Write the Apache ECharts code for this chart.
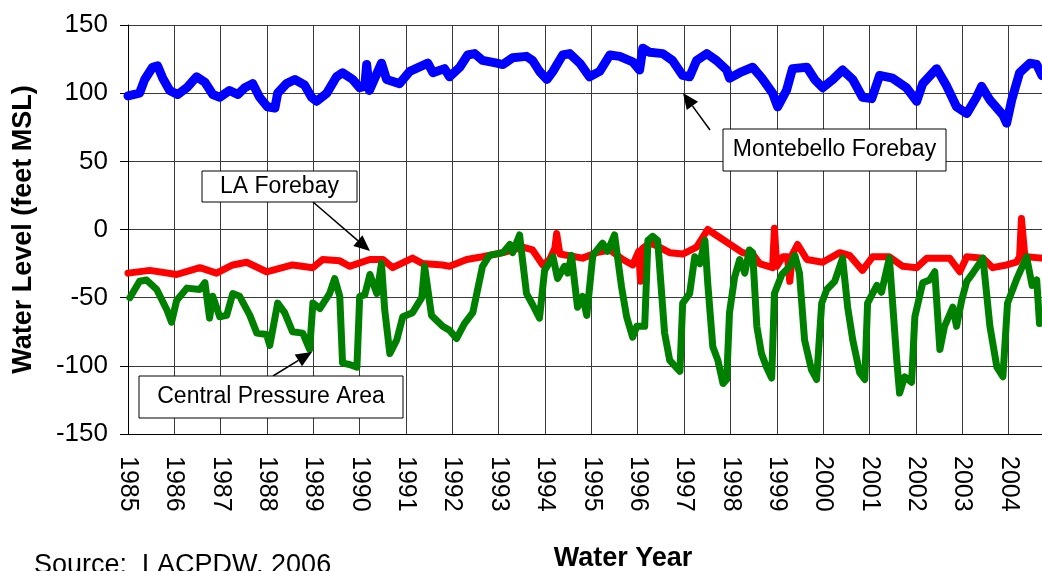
<!DOCTYPE html>
<html><head><meta charset="utf-8">
<script src="https://cdn.jsdelivr.net/npm/echarts@6/dist/echarts.min.js"></script>
<style>html,body{margin:0;padding:0;background:#fff}#c{width:1042px;height:571px}</style>
</head><body><div id="c"></div>
<script>
// ---- data (water year, water level in feet MSL) ----
const montebelloForebay = [[1985.00,98],[1985.25,100],[1985.36,110],[1985.53,119],[1985.64,120],[1985.75,111],[1985.90,102],[1986.07,99],[1986.27,104],[1986.48,112],[1986.66,108],[1986.83,99],[1986.98,97],[1987.19,102],[1987.37,99],[1987.52,104],[1987.69,107],[1987.84,97],[1988.01,90],[1988.17,89],[1988.23,100],[1988.42,107],[1988.60,110],[1988.81,106],[1988.96,97],[1989.07,94],[1989.29,100],[1989.50,112],[1989.63,115],[1989.85,110],[1990.00,104],[1990.11,105],[1990.15,121],[1990.21,102],[1990.47,122],[1990.58,110],[1990.86,107],[1991.08,116],[1991.47,122],[1991.58,115],[1991.83,118],[1991.94,112],[1992.16,119],[1992.33,128],[1992.48,129],[1992.65,124],[1992.96,122],[1993.09,121],[1993.30,126],[1993.60,127],[1993.73,124],[1993.88,116],[1994.04,110],[1994.17,116],[1994.38,128],[1994.53,129],[1994.75,122],[1994.96,112],[1995.18,116],[1995.40,128],[1995.61,127],[1995.89,123],[1996.04,117],[1996.11,133],[1996.26,130],[1996.54,129],[1996.75,124],[1996.97,113],[1997.12,112],[1997.27,124],[1997.49,129],[1997.70,124],[1997.92,117],[1997.98,111],[1998.20,115],[1998.48,119],[1998.68,111],[1998.91,100],[1999.02,90],[1999.21,102],[1999.34,118],[1999.65,119],[1999.82,110],[1999.99,104],[2000.21,110],[2000.42,117],[2000.64,110],[2000.85,97],[2001.05,96],[2001.22,113],[2001.50,111],[2001.80,104],[2002.02,94],[2002.15,107],[2002.45,118],[2002.67,105],[2002.88,90],[2003.10,85],[2003.31,97],[2003.42,105],[2003.60,95],[2003.88,84],[2003.96,78],[2004.07,95],[2004.24,115],[2004.46,122],[2004.61,121],[2004.72,113]];

const laForebay = [[1985.00,-32],[1985.47,-30],[1986.05,-33],[1986.55,-28],[1986.91,-32],[1987.26,-26],[1987.56,-24],[1987.99,-31],[1988.55,-26],[1988.99,-28],[1989.20,-22],[1989.57,-23],[1989.78,-27],[1990.22,-22],[1990.50,-22],[1990.71,-28],[1991.14,-21],[1991.36,-25],[1991.79,-26],[1991.94,-27],[1992.31,-22],[1992.65,-20],[1993.09,-17],[1993.52,-13],[1993.73,-15],[1993.95,-26],[1994.10,-22],[1994.21,-14],[1994.25,-3],[1994.32,-18],[1994.36,-19],[1994.81,-21],[1995.11,-17],[1995.40,-15],[1995.68,-22],[1995.89,-26],[1996.02,-16],[1996.06,-38],[1996.10,-14],[1996.26,-10],[1996.41,-12],[1996.69,-17],[1996.97,-18],[1997.27,-13],[1997.51,0],[1998.26,-17],[1998.48,-18],[1998.63,-25],[1998.91,-28],[1998.95,1],[1999.00,-27],[1999.13,-20],[1999.23,-20],[1999.28,-38],[1999.34,-18],[1999.45,-11],[1999.65,-22],[1999.99,-24],[2000.36,-17],[2000.57,-19],[2000.85,-30],[2001.07,-20],[2001.43,-20],[2001.72,-27],[2002.02,-28],[2002.24,-21],[2002.73,-21],[2002.95,-31],[2003.10,-20],[2003.45,-21],[2003.66,-28],[2003.96,-26],[2004.17,-24],[2004.24,-20],[2004.28,8],[2004.35,-18],[2004.39,-20],[2004.72,-21]];

const centralPressureArea = [[1985.04,-50],[1985.25,-38],[1985.40,-37],[1985.62,-44],[1985.84,-59],[1985.94,-68],[1986.05,-52],[1986.27,-43],[1986.55,-44],[1986.66,-39],[1986.76,-65],[1986.83,-49],[1986.98,-64],[1987.13,-63],[1987.26,-47],[1987.41,-49],[1987.63,-63],[1987.78,-76],[1987.99,-77],[1988.06,-85],[1988.23,-54],[1988.38,-61],[1988.55,-75],[1988.77,-76],[1988.92,-88],[1988.99,-54],[1989.14,-58],[1989.35,-47],[1989.46,-36],[1989.57,-49],[1989.63,-98],[1989.78,-99],[1989.94,-101],[1990.00,-49],[1990.11,-48],[1990.22,-33],[1990.37,-47],[1990.47,-25],[1990.54,-59],[1990.65,-91],[1990.80,-81],[1990.93,-64],[1991.14,-61],[1991.34,-50],[1991.40,-27],[1991.55,-63],[1991.79,-71],[1991.94,-74],[1992.09,-80],[1992.26,-69],[1992.44,-61],[1992.65,-27],[1992.80,-19],[1993.09,-17],[1993.24,-11],[1993.30,-17],[1993.45,-4],[1993.60,-47],[1993.73,-55],[1993.88,-65],[1993.99,-30],[1994.17,-20],[1994.27,-36],[1994.42,-27],[1994.49,-32],[1994.57,-19],[1994.70,-57],[1994.81,-49],[1994.90,-63],[1995.03,-19],[1995.24,-10],[1995.35,-16],[1995.50,-4],[1995.65,-42],[1995.76,-64],[1995.89,-79],[1995.98,-71],[1996.15,-71],[1996.22,-8],[1996.32,-5],[1996.43,-8],[1996.58,-76],[1996.69,-96],[1996.91,-104],[1996.97,-54],[1997.12,-47],[1997.23,-20],[1997.34,-25],[1997.45,-8],[1997.51,-39],[1997.62,-86],[1997.73,-96],[1997.84,-113],[1997.92,-110],[1997.98,-61],[1998.09,-35],[1998.20,-22],[1998.31,-32],[1998.41,-15],[1998.48,-17],[1998.57,-71],[1998.67,-91],[1998.78,-101],[1998.89,-109],[1998.95,-47],[1999.11,-33],[1999.28,-27],[1999.39,-19],[1999.49,-32],[1999.60,-81],[1999.75,-103],[1999.86,-110],[1999.97,-54],[2000.08,-44],[2000.25,-38],[2000.42,-21],[2000.53,-57],[2000.64,-81],[2000.79,-105],[2000.90,-110],[2000.96,-54],[2001.16,-41],[2001.26,-46],[2001.43,-21],[2001.59,-96],[2001.65,-120],[2001.76,-108],[2001.91,-112],[2001.98,-64],[2002.15,-39],[2002.30,-37],[2002.41,-31],[2002.52,-88],[2002.62,-71],[2002.80,-57],[2002.88,-71],[2002.99,-52],[2003.10,-38],[2003.23,-32],[2003.45,-21],[2003.60,-71],[2003.75,-101],[2003.88,-108],[2003.98,-54],[2004.17,-37],[2004.39,-20],[2004.51,-41],[2004.61,-37],[2004.67,-69]];

const seriesNames = ['Montebello Forebay', 'LA Forebay', 'Central Pressure Area'];
const yAxisTitle = 'Water Level (feet MSL)';
const xAxisTitle = 'Water Year';
const sourceNote = 'Source:  LACPDW, 2006';

// ---- chart ----
const FONT = '"Liberation Sans", Arial, Helvetica, sans-serif';
const chart = echarts.init(document.getElementById('c'), null, {renderer: 'canvas'});

function arrow(x1, y1, x2, y2) {
  const dx = x2 - x1, dy = y2 - y1, L = Math.hypot(dx, dy);
  const ux = dx / L, uy = dy / L, hl = 16, hw = 7;
  const bx = x2 - ux * hl, by = y2 - uy * hl;
  return [
    {type: 'line', z: 100, shape: {x1: x1, y1: y1, x2: bx, y2: by}, style: {stroke: '#000', lineWidth: 1.5}},
    {type: 'polygon', z: 100, shape: {points: [[x2, y2], [bx - uy * hw, by + ux * hw], [bx + uy * hw, by - ux * hw]]}, style: {fill: '#000'}}
  ];
}
function box(x, y, w, h, text) {
  return [
    {type: 'rect', z: 100, shape: {x: x, y: y, width: w, height: h}, style: {fill: '#fff', stroke: '#000', lineWidth: 1}},
    {type: 'text', z: 101, x: x + w / 2, y: y + h / 2,
     style: {text: text, fontSize: 23, fontFamily: FONT, fill: '#000', align: 'center', verticalAlign: 'middle', textAlign: 'center', textVerticalAlign: 'middle'}}
  ];
}

const graphics = [].concat(
  arrow(313, 202, 370, 251), box(202, 171, 155, 31, seriesNames[1]),
  arrow(710, 130, 683, 93), box(723, 129, 223, 42, seriesNames[0]),
  arrow(273, 376, 312, 352), box(139, 376, 264, 42, seriesNames[2]),
  [
    {type: 'text', z: 50, x: 623, y: 559,
     style: {text: xAxisTitle, fontSize: 27, fontWeight: 'bold', fontFamily: FONT, fill: '#000', align: 'center', verticalAlign: 'middle', textAlign: 'center', textVerticalAlign: 'middle'}},
    {type: 'text', z: 50, x: 34, y: 566,
     style: {text: sourceNote, fontSize: 27, fontFamily: FONT, fill: '#000', align: 'left', verticalAlign: 'middle', textAlign: 'left', textVerticalAlign: 'middle'}}
  ]
);

const option = {
  animation: false,
  backgroundColor: '#fff',
  grid: {left: 128, top: 25, width: 926.8, height: 409, containLabel: false, outerBoundsMode: 'none'},
  xAxis: {
    type: 'value', min: 1985, max: 2005, interval: 1,
    axisLine: {show: true, onZero: false, lineStyle: {color: '#000', width: 1}},
    axisTick: {show: false},
    axisLabel: {rotate: -90, margin: 22, fontSize: 25, fontFamily: FONT, color: '#000',
                formatter: v => String(Math.round(v))},
    splitLine: {show: true, lineStyle: {color: '#3a3a3a', width: 1}}
  },
  yAxis: {
    type: 'value', min: -150, max: 150, interval: 50,
    name: yAxisTitle, nameLocation: 'middle', nameGap: 91,
    nameTextStyle: {fontSize: 27, fontWeight: 'bold', fontFamily: FONT, color: '#000'},
    axisLine: {show: true, lineStyle: {color: '#000', width: 1}},
    axisTick: {show: true, inside: false, length: 8, lineStyle: {color: '#000'}},
    axisLabel: {margin: 20, fontSize: 26, fontFamily: FONT, color: '#000'},
    splitLine: {show: true, lineStyle: {color: '#3a3a3a', width: 1}}
  },
  series: [
    {name: seriesNames[0], type: 'line', data: montebelloForebay, showSymbol: false, z: 2,
     lineStyle: {color: '#0000ff', width: 9, join: 'round', cap: 'round'}, itemStyle: {color: '#0000ff'}},
    {name: seriesNames[1], type: 'line', data: laForebay, showSymbol: false, z: 3,
     lineStyle: {color: '#ff0000', width: 7, join: 'round', cap: 'round'}, itemStyle: {color: '#ff0000'}},
    {name: seriesNames[2], type: 'line', data: centralPressureArea, showSymbol: false, z: 4,
     lineStyle: {color: '#008000', width: 7, join: 'round', cap: 'round'}, itemStyle: {color: '#008000'}}
  ],
  graphic: graphics
};
chart.setOption(option);
</script>
</body></html>
